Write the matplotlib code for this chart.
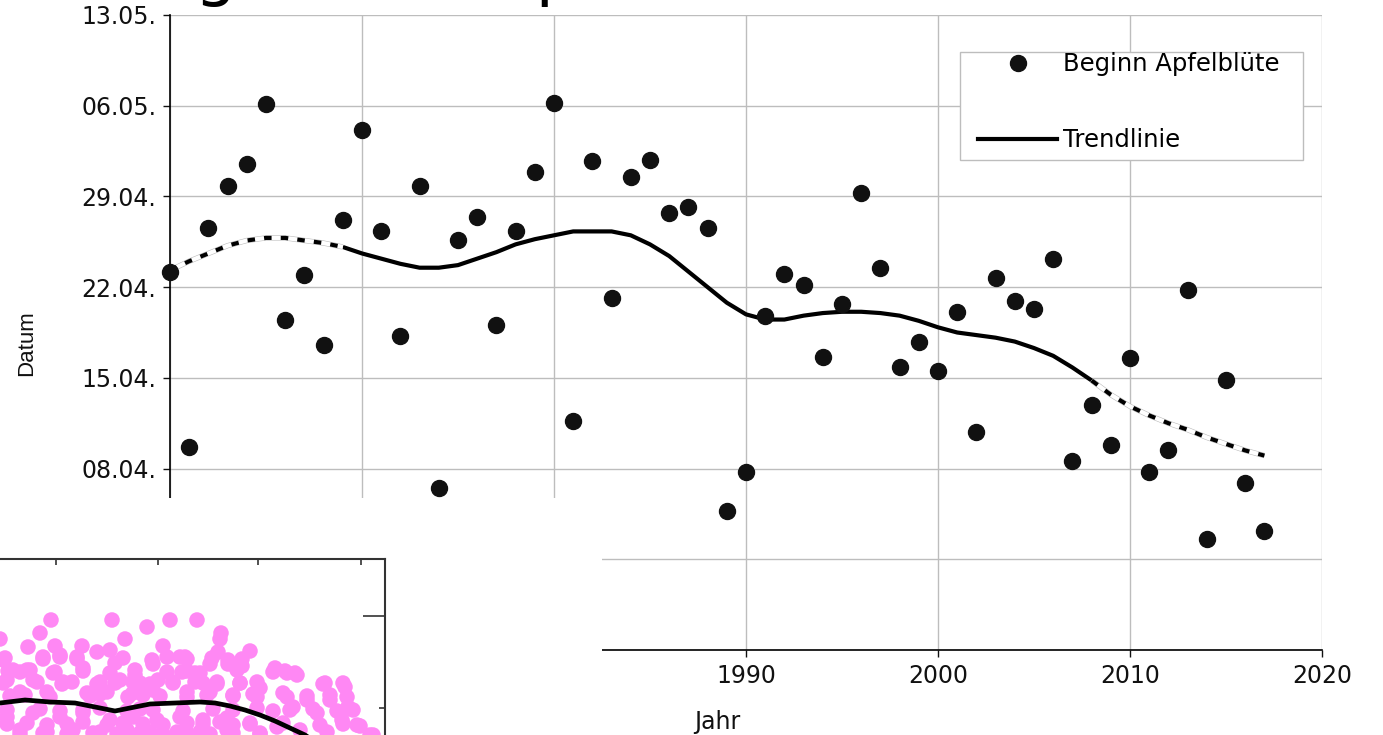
import matplotlib.pyplot as plt
from matplotlib.lines import Line2D
from matplotlib.patches import Rectangle
import numpy as np

# Beginn der Apfelblüte (Tag im Jahr, 1 = 1. Januar)
years = np.arange(1960, 2018)
bloom_doy = [113.2, 99.7, 116.6, 119.8, 121.5, 126.1, 109.5, 112.9, 107.5, 117.2,
             124.1, 116.3, 108.2, 119.8, 96.5, 115.6, 117.4, 109.1, 116.3, 120.9,
             126.2, 101.7, 121.7, 111.2, 120.5, 121.8, 117.7, 118.2, 116.6, 94.7,
             97.7, 109.8, 113.0, 112.2, 106.6, 110.7, 119.3, 113.5, 105.8, 107.8,
             105.5, 110.1, 100.8, 112.7, 110.9, 110.3, 114.2, 98.6, 102.9, 99.8,
             106.5, 97.7, 99.4, 111.8, 92.6, 104.8, 96.9, 93.2]

# Trendlinie (je Jahr)
trend_doy = [113.3, 114.0, 114.6, 115.2, 115.6, 115.8, 115.8, 115.6, 115.4, 115.1,
             114.6, 114.2, 113.8, 113.5, 113.5, 113.7, 114.2, 114.7, 115.3, 115.7,
             116.0, 116.3, 116.3, 116.3, 116.0, 115.3, 114.4, 113.2, 112.0, 110.8,
             109.9, 109.5, 109.5, 109.8, 110.0, 110.1, 110.1, 110.0, 109.8, 109.4,
             108.9, 108.5, 108.3, 108.1, 107.8, 107.3, 106.7, 105.8, 104.8, 103.7,
             102.8, 102.1, 101.5, 101.0, 100.4, 99.9, 99.4, 99.0]
solid_from, solid_to = 1969, 2008

y_ticks = [84, 91, 98, 105, 112, 119, 126, 133]
y_labels = ["25.03.", "01.04.", "08.04.", "15.04.", "22.04.", "29.04.", "06.05.", "13.05."]
x_ticks = [1960, 1970, 1980, 1990, 2000, 2010, 2020]

# Ausschnitt der zweiten Grafik (Pixel-Einheiten des Ausschnitts)
pink_x = [51, 112, 170, 197, 147, 40, 221, 125, 220, 0, 28, 55, 82, 97, 110, 163, 218, 250,
          43, 60, 77, 185, 167, 3, 83, 115, 153, 210, 228, 242, 275, 13, 27, 53, 135, 182,
          195, 287, 297, 325, 345, 7, 33, 63, 100, 120, 140, 158, 173, 203, 217, 240, 260,
          283, 307, 330, 348, 342, 357, 373, 20, 47, 87, 107, 133, 153, 187, 210, 233, 257,
          293, 317, 7, 33, 60, 83, 110, 133, 157, 180, 203, 227, 250, 277, 300, 20, 47, 73,
          100, 127, 150, 177, 200, 227, 260, 327,
          5, 43, 60, 77, 123, 152, 180, 187, 212, 228, 242,
          8, 20, 30, 55, 83, 110, 135, 167, 187, 200, 237, 273, 285, 295,
          3, 37, 62, 72, 97, 115, 133, 150, 173, 195, 217, 240, 257, 323, 343,
          10, 25, 50, 90, 100, 128, 143, 160, 187, 207, 233, 253, 287, 307, 330, 347,
          7, 40, 60, 83, 100, 127, 140, 153, 183, 213, 233, 257, 273, 290, 313, 337, 353,
          7, 27, 47, 67, 83, 107, 123, 143, 163, 187, 203, 220, 233, 250, 283, 320, 343, 360,
          20, 43, 67, 93, 117, 140, 163, 187, 210, 233, 260, 370]
pink_y = [620, 620, 620, 620, 627, 633, 633, 639, 639, 639, 647, 646, 646, 652, 650, 646, 652, 651,
          657, 655, 657, 657, 657, 660, 668, 663, 664, 664, 664, 666, 668, 670, 670, 673, 675, 672,
          673, 673, 675, 683, 687, 680, 680, 682, 682, 680, 683, 680, 682, 683, 682, 683, 688,
          693, 700, 700, 707, 720, 725, 735, 692, 692, 693, 692, 693, 690, 692, 692, 695, 697,
          707, 713, 717, 713, 717, 713, 720, 717, 720, 717, 720, 718, 723, 727, 730, 730, 732, 730,
          732, 730, 732, 732, 732, 730, 733, 732,
          658, 659, 657, 659, 658, 660, 657, 659, 658, 660, 659,
          671, 672, 670, 672, 671, 673, 670, 672, 671, 673, 670, 672, 671, 673,
          683, 682, 684, 682, 684, 683, 682, 684, 683, 682, 684, 683, 682, 684, 683,
          696, 695, 697, 696, 694, 697, 695, 696, 697, 695, 696, 694, 697, 696, 695, 697,
          710, 709, 711, 710, 708, 711, 709, 710, 711, 709, 710, 708, 711, 710, 709, 711, 710,
          724, 723, 725, 724, 722, 725, 723, 724, 725, 723, 724, 722, 725, 724, 723, 725, 724, 726,
          734, 733, 734, 733, 734, 733, 734, 733, 734, 733, 734, 735]
pink_line_x = [-20, 0, 25, 50, 75, 100, 115, 130, 150, 175, 200, 215, 230, 245, 260, 275, 290, 305, 315]
pink_line_y = [706, 703, 700, 702, 703, 708, 711, 708, 704, 703, 702, 703, 706, 710, 715, 721, 728, 735, 742]

W, H = 1383, 735
fig = plt.figure(figsize=(W / 100, H / 100), dpi=100)
ax = fig.add_axes([170 / W, 85 / H, 1152 / W, 635 / H])

ax.plot(years, bloom_doy, 'o', color='#111111', ms=11.5, zorder=3, clip_on=False)

yrs = np.asarray(years)
tr = np.asarray(trend_doy)
solid = (yrs >= solid_from) & (yrs <= solid_to)
ax.plot(yrs[solid], tr[solid], color='black', lw=3, zorder=2, solid_capstyle='butt')
for m in [yrs <= solid_from, yrs >= solid_to]:
    ax.plot(yrs[m], tr[m], color='#bbbbbb', lw=3.8, zorder=2, solid_capstyle='butt')
    ax.plot(yrs[m], tr[m], color='white', lw=3.0, zorder=2, solid_capstyle='butt')
    ax.plot(yrs[m], tr[m], color='black', lw=3.0, zorder=2,
            linestyle=(0, (1.8, 2.2)), dash_capstyle='butt')

ax.set_xlim(1960, 2020)
ax.set_ylim(84, 133)
ax.set_xticks(x_ticks)
ax.set_yticks(y_ticks)
ax.set_yticklabels(y_labels)
ax.grid(color='#bdbdbd', lw=1.0)
ax.set_axisbelow(True)
for s in ['top', 'right']:
    ax.spines[s].set_visible(False)
for s in ['left', 'bottom']:
    ax.spines[s].set_color('black')
    ax.spines[s].set_linewidth(1.2)
ax.tick_params(axis='both', direction='out', length=5, width=1, colors='#111111',
               labelsize=17, pad=5)

fig.text(27 / W, 1 - 343 / H, "Datum", rotation=90, ha='center', va='center',
         fontsize=16, family='Liberation Sans', color='#111111')
fig.text(717 / W, 1 - 722 / H, "Jahr", ha='center', va='center', fontsize=17,
         color='#111111')

# Legende
ax.add_patch(Rectangle((0.6858, 0.7717), 0.2977, 0.17, transform=ax.transAxes,
                       facecolor='white', edgecolor='#bdbdbd', lw=1.0, zorder=4))
handles = [Line2D([], [], marker='o', ls='', color='#111111', ms=11.5),
           Line2D([], [], color='black', lw=3)]
leg = ax.legend(handles, ["Beginn Apfelblüte", "Trendlinie"], loc='upper left',
                bbox_to_anchor=(0.7014, 0.9417), frameon=False, borderpad=0,
                borderaxespad=0, handlelength=3.25, handletextpad=0.25,
                labelspacing=2.14, fontsize=17.5)
leg.set_zorder(5)

# Titel (oben abgeschnitten)
fig.text(109 / W, 1 + 7.5 / H, "Beginn der Apfelblüte", ha='left', va='baseline',
         fontsize=47.5, color='black')

# weiße Abdeckung unten links
fig.patches.append(Rectangle((0, 0), 602 / W, 237 / H, transform=fig.transFigure,
                             facecolor='white', edgecolor='none', zorder=1))

# zweite Grafik (Ausschnitt)
ax2 = fig.add_axes([-20 / W, -65 / H, 405 / W, 241 / H])
ax2.set_zorder(2)
ax2.scatter(pink_x, [800 - v for v in pink_y], s=125, color='#ff88f4', edgecolors='none')
ax2.plot(pink_line_x, [800 - v for v in pink_line_y], color='black', lw=3.4)
ax2.set_xlim(-20, 385)
ax2.set_ylim(0, 241)
for s in ax2.spines.values():
    s.set_color('#333333')
    s.set_linewidth(1.5)
ax2.set_xticks([56, 158, 258, 361])
ax2.set_yticks([800 - 616])
ax2.set_yticks([800 - 708], minor=True)
ax2.tick_params(axis='x', top=True, bottom=False, labeltop=False, labelbottom=False,
                direction='in', length=4.5, width=1.2, color='#333333')
ax2.tick_params(axis='y', which='major', right=True, left=False, labelleft=False,
                direction='in', length=16, width=1.2, color='#333333')
ax2.tick_params(axis='y', which='minor', right=True, left=False, labelleft=False,
                direction='in', length=4, width=1.2, color='#333333')

fig.savefig("out.png", dpi=100)
